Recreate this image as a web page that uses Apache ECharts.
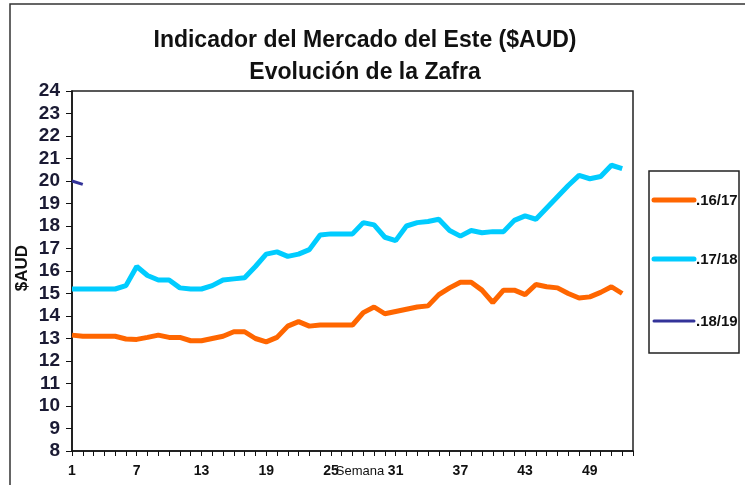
<!DOCTYPE html>
<html>
<head>
<meta charset="utf-8">
<script src="https://cdn.jsdelivr.net/npm/echarts@6/dist/echarts.min.js"></script>
<style>
	html, body { margin: 0; padding: 0; background: #fff; }
	#chart { width: 745px; height: 485px; }
</style>
</head>
<body>
<div id="chart"></div>
<script type="text/javascript">
	// semanas 1..53 en el eje, datos hasta la 52
	var semanas = [];
	for (var i = 1; i <= 53; i++) semanas.push(String(i));

	var seriesNames = ['.16/17', '.17/18', '.18/19'];
	var zafra1617 = [13.15, 13.1, 13.1, 13.1, 13.1, 12.98, 12.96, 13.05, 13.15, 13.05,
		13.05, 12.9, 12.9, 13.0, 13.1, 13.3, 13.3, 13.0, 12.85, 13.05,
		13.55, 13.75, 13.55, 13.6, 13.6, 13.6, 13.6, 14.15, 14.4, 14.1,
		14.2, 14.3, 14.4, 14.45, 14.95, 15.25, 15.5, 15.5, 15.15, 14.6,
		15.15, 15.15, 14.95, 15.4, 15.3, 15.25, 15.0, 14.8, 14.85, 15.05,
		15.3, 15.0];
	var zafra1718 = [15.2, 15.2, 15.2, 15.2, 15.2, 15.35, 16.2, 15.8, 15.6, 15.6,
		15.25, 15.2, 15.2, 15.35, 15.6, 15.65, 15.7, 16.2, 16.75, 16.85,
		16.65, 16.75, 16.95, 17.6, 17.65, 17.65, 17.65, 18.15, 18.05, 17.5,
		17.35, 18.0, 18.15, 18.2, 18.3, 17.8, 17.55, 17.8, 17.7, 17.75,
		17.75, 18.25, 18.45, 18.3, 18.8, 19.3, 19.8, 20.25, 20.1, 20.2,
		20.7, 20.55];
	var zafra1819 = [20.0, 19.85];
	var colores = ['#FF6600', '#00CCFF', '#333399'];
	var grosor = [5, 5, 3];

	var condensed = '"Liberation Sans Narrow", "Liberation Sans", Arial';

	// marco, titulo, nombres de ejes y leyenda dibujados a mano
	var graficos = [
		{ type: 'rect', shape: { x: 10, y: 4, width: 800, height: 600 }, style: { fill: 'none', stroke: '#333', lineWidth: 1.5 }, z: 0 },
		{ type: 'rect', shape: { x: 649, y: 171, width: 90, height: 182 }, style: { fill: 'none', stroke: '#222', lineWidth: 1.5 } },
		{ type: 'text', x: 365, y: 41, style: { text: 'Indicador del Mercado del Este ($AUD)', font: 'bold 23px "Liberation Sans", Arial', fill: '#111', textAlign: 'center', textVerticalAlign: 'middle' } },
		{ type: 'text', x: 365, y: 73, style: { text: 'Evolución de la Zafra', font: 'bold 23px "Liberation Sans", Arial', fill: '#111', textAlign: 'center', textVerticalAlign: 'middle' } },
		{ type: 'text', x: 360, y: 471, z: 5, style: { text: 'Semana', font: '13px ' + condensed, fill: '#111', textAlign: 'center', textVerticalAlign: 'middle' } },
		{ type: 'text', x: 22, y: 268, rotation: Math.PI / 2, style: { text: '$AUD', font: 'bold 17px "Liberation Sans", Arial', fill: '#111', textAlign: 'center', textVerticalAlign: 'middle' } }
	];
	var legendY = [200, 259, 321];
	for (var k = 0; k < seriesNames.length; k++) {
		graficos.push({ type: 'line', shape: { x1: 654, y1: legendY[k], x2: 694, y2: legendY[k] },
			style: { stroke: colores[k], lineWidth: grosor[k], lineCap: 'round' } });
		graficos.push({ type: 'text', x: 696, y: legendY[k] + 1, style: { text: seriesNames[k], font: 'bold 15px ' + condensed, fill: '#111', textVerticalAlign: 'middle' } });
	}

	var myChart = echarts.init(document.getElementById('chart'));
	var option = {
		animation: false,
		backgroundColor: '#fff',
		grid: { left: 72, top: 91, right: 112, bottom: 34, outerBoundsMode: 'none', show: true, borderColor: '#222', borderWidth: 1.5, backgroundColor: 'transparent' },
		graphic: graficos,
		xAxis: {
			type: 'category',
			data: semanas,
			boundaryGap: false,
			axisLine: { lineStyle: { color: '#111', width: 1.5 } },
			axisTick: { interval: 0, length: 5, lineStyle: { color: '#111' } },
			axisLabel: { interval: 5, margin: 13, fontFamily: condensed, fontWeight: 'bold', fontSize: 14, color: '#111' },
			splitLine: { show: false }
		},
		yAxis: {
			type: 'value',
			min: 8, max: 24, interval: 1,
			axisLine: { show: true, lineStyle: { color: '#111', width: 1.5 } },
			axisTick: { show: true, length: 6, lineStyle: { color: '#111' } },
			axisLabel: { margin: 12, fontFamily: '"Liberation Sans", Arial', fontWeight: 'bold', fontSize: 19, color: '#1a1a33' },
			splitLine: { show: false }
		},
		series: [
			{ name: seriesNames[0], type: 'line', data: zafra1617, symbol: 'none', color: colores[0], lineStyle: { width: grosor[0], color: colores[0] } },
			{ name: seriesNames[1], type: 'line', data: zafra1718, symbol: 'none', color: colores[1], lineStyle: { width: grosor[1], color: colores[1] } },
			{ name: seriesNames[2], type: 'line', data: zafra1819, symbol: 'none', color: colores[2], lineStyle: { width: grosor[2], color: colores[2] } }
		]
	};
	myChart.setOption(option);
</script>
</body>
</html>
